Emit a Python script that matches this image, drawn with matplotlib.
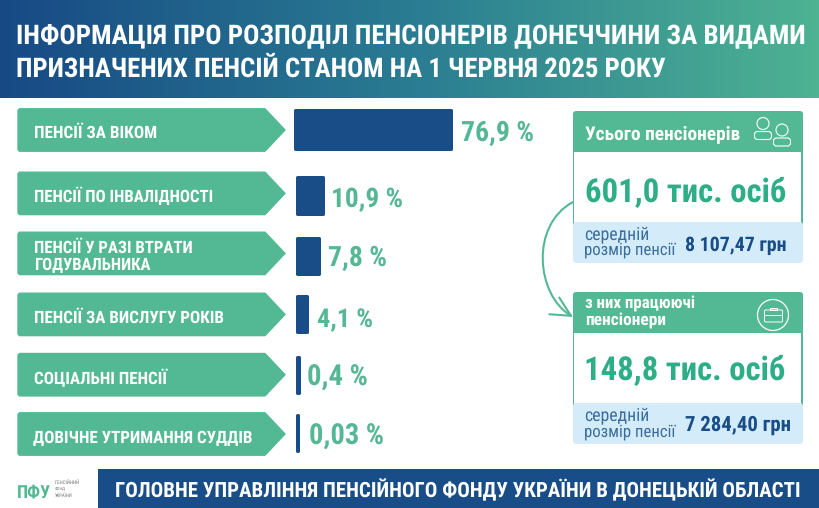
import numpy as np
import matplotlib
matplotlib.use("Agg")
import matplotlib.pyplot as plt
from matplotlib.patches import FancyBboxPatch, Polygon, FancyArrowPatch, Circle, Rectangle
from matplotlib.path import Path
from matplotlib.colors import LinearSegmentedColormap
from matplotlib.scale import FuncScale

# ---- data ----
categories = [["ПЕНСІЇ ЗА ВІКОМ"], ["ПЕНСІЇ ПО ІНВАЛІДНОСТІ"], ["ПЕНСІЇ У РАЗІ ВТРАТИ", "ГОДУВАЛЬНИКА"],
              ["ПЕНСІЇ ЗА ВИСЛУГУ РОКІВ"], ["СОЦІАЛЬНІ ПЕНСІЇ"], ["ДОВІЧНЕ УТРИМАННЯ СУДДІВ"]]
shares = [76.9, 10.9, 7.8, 4.1, 0.4, 0.03]
share_labels = ["76,9 %", "10,9 %", "7,8 %", "4,1 %", "0,4 %", "0,03 %"]
title_lines = ["ІНФОРМАЦІЯ ПРО РОЗПОДІЛ ПЕНСІОНЕРІВ ДОНЕЧЧИНИ ЗА ВИДАМИ",
               "ПРИЗНАЧЕНИХ ПЕНСІЙ СТАНОМ НА 1 ЧЕРВНЯ 2025 РОКУ"]
footer = "ГОЛОВНЕ УПРАВЛІННЯ ПЕНСІЙНОГО ФОНДУ УКРАЇНИ В ДОНЕЦЬКІЙ ОБЛАСТІ"
card_totals = ["601,0 тис. осіб", "148,8 тис. осіб"]
card_pensions = ["8 107,47 грн", "7 284,40 грн"]

# ---- layout (pixels) ----
W, H = 820, 508
NAVY, GREEN, BIG, LIGHT = "#194D88", "#53B994", "#2DAE86", "#D4ECFA"
FONT = ["Roboto Condensed", "Liberation Sans Narrow", "Roboto", "DejaVu Sans"]
plt.rcParams["text.hinting"] = "no_hinting"
arrow_tops = [108.3, 171.7, 231.7, 292.7, 353, 412.3]
bar_tops = [108.3, 175.6, 236, 294.3, 355.3, 413]
bar_bots = [150.8, 215.4, 275.4, 333.5, 394.6, 452]
# the reference's bars do not grow linearly: axis scale
scale_v = [-1, 0, 0.03, 0.4, 4.1, 7.8, 10.9, 76.9, 200]
scale_p = [-2, 0, 0.1, 1.3, 9.5, 21.5, 25.5, 154, 400]
bar_starts = [-1, 0, 0, 0, 0, 0]
label_gap = [8.5, 7, 7.5, 8.5, 7, 10]
label_w = [73, 72, 59, 56, 61, 75]
label_base = [141, 207, 266, 327, 386, 445]

fig = plt.figure(figsize=(W / 100, H / 100), dpi=100)
ax = fig.add_axes([0, 0, 1, 1])
ax.set_xlim(0, W); ax.set_ylim(H, 0); ax.axis("off")
rend = fig.canvas.get_renderer()


def refit(t, width):
    for _ in range(3):
        w = t.get_window_extent(rend).width
        t.set_fontsize(t.get_fontsize() * width / w)


def fit(x0, x1, base, s, size, color, weight="bold"):
    t = ax.text(x0, base, s, color=color, fontsize=size, fontweight=weight, family=FONT,
                ha="left", va="baseline", zorder=6)
    refit(t, x1 - x0)
    return t


def rbox(x0, y0, x1, y1, r, fc, z=2):
    p = FancyBboxPatch((x0 + r, y0 + r), x1 - x0 - 2 * r, y1 - y0 - 2 * r,
                       boxstyle=f"round,pad={r},rounding_size={r}", fc=fc, ec="none", lw=0, zorder=z)
    ax.add_patch(p)
    return p


# header gradient
cm = LinearSegmentedColormap.from_list("h", ["#174A85", "#2A7C92", "#4DB393"])
ax.imshow(np.linspace(0, 1, 256)[None, :], extent=(0, W, 98, 0), cmap=cm, aspect="auto", zorder=1)
ax.set_xlim(0, W); ax.set_ylim(H, 0)
fit(16.5, 804.5, 44, title_lines[0], 21, "white")
fit(16.5, 667, 77, title_lines[1], 21, "white")

# arrows with labels
for top in arrow_tops:
    bot = top + 43.4
    mid = (top + bot) / 2
    verts = [(19.5, top + .5), (265, top + .5), (285, mid), (265, bot - .5), (19.5, bot - .5),
             (18, bot - 2), (18, top + 2)]
    ax.add_patch(Polygon(verts, closed=True, fc=GREEN, ec=GREEN, lw=1, joinstyle="round", zorder=2))
label_spans = [[(34, 157)], [(34, 214)], [(34, 193), (34, 150)], [(34, 224)], [(34, 167)], [(33, 252)]]
label_bases = [[138], [202], [253, 270], [323], [384], [443]]
for lines, spans, bases in zip(categories, label_spans, label_bases):
    for s, (a, b), y in zip(lines, spans, bases):
        fit(a, b, y, s, 14, "white")

# bars on a value axis
bax = fig.add_axes([297.5 / W, 0, 400 / W, 1])
bax.patch.set_alpha(0); bax.axis("off")
bax.set_xscale(FuncScale(bax, (lambda v: np.interp(v, scale_v, scale_p),
                               lambda p: np.interp(p, scale_p, scale_v))))
bax.set_xlim(0, 200); bax.set_ylim(H, 0)
LW = 3 * 0.72
for val, start, lab, t, b, gap, w, base in zip(shares, bar_starts, share_labels, bar_tops, bar_bots,
                                               label_gap, label_w, label_base):
    bax.barh((t + b) / 2, val - start, height=b - t - 3, left=start, color=NAVY, edgecolor=NAVY,
             linewidth=LW, joinstyle="round", clip_on=False)
    a = bax.annotate(lab, (val, base), xytext=((gap + 1.5) * 0.72, 0), textcoords="offset points",
                     ha="left", va="baseline", color="#56B795", fontsize=23, fontweight="bold", family=FONT)
    refit(a, w)

# cards
for top in [111, 292]:
    rbox(573, top, 803, top + 60, 3, GREEN)
    ax.add_patch(Rectangle((574.5, top + 41), 227, 72, fc="white", ec="none", zorder=3))
    ax.add_patch(Rectangle((573, top + 50), 1.5, 64, fc=GREEN, ec="none", zorder=3))
    ax.add_patch(Rectangle((801.5, top + 50), 1.5, 64, fc=GREEN, ec="none", zorder=3))
    rbox(573, top + 111, 803, top + 152, 3, LIGHT, z=4)
fit(585, 740, 139, "Усього пенсіонерів", 15, "white")
fit(585, 695, 309, "з них працюючі", 15, "white")
fit(585, 666, 326, "пенсіонери", 15, "white")
fit(585, 786, 202, card_totals[0], 27, BIG)
fit(584, 785, 380, card_totals[1], 27, BIG)
for b1, b2 in ((239, 255), (420, 437)):
    fit(584.5, 650, b1, "середній", 13, "#3B6E9E", "normal")
    fit(584.5, 676, b2, "розмір пенсії", 13, "#3B6E9E", "normal")
fit(685.5, 787, 250.5, card_pensions[0], 16, NAVY)
fit(685, 791, 431, card_pensions[1], 16, NAVY)

# connector
ax.add_patch(FancyArrowPatch(path=Path([(573, 202), (530, 225), (536, 295), (573, 317)],
                                       [Path.MOVETO, Path.CURVE4, Path.CURVE4, Path.CURVE4]),
                             arrowstyle="->,head_length=14,head_width=7", color=GREEN, lw=1.5, zorder=5,
                             shrinkA=0, shrinkB=0))

# icons
def person(cx, cy, z):
    ax.add_patch(FancyBboxPatch((cx - 8.5, cy + 8), 17, 8, boxstyle="round,pad=0,rounding_size=3",
                                fc=GREEN, ec="white", lw=0.8, zorder=z))
    ax.add_patch(Circle((cx, cy), 6, fc=GREEN, ec="white", lw=0.8, zorder=z))
person(763, 123.5, 6)
person(782, 130, 7)
ax.add_patch(Circle((773, 315), 15.5, fc="none", ec="white", lw=0.9, zorder=6))
ax.add_patch(FancyBboxPatch((764.5, 310), 18, 12, boxstyle="round,pad=0,rounding_size=1",
                            fc="none", ec="white", lw=0.7, zorder=6))
ax.add_patch(Rectangle((770, 307.5), 7, 2.5, fc="none", ec="white", lw=0.7, zorder=6))
ax.plot([764.5, 782.5], [315, 315], color="white", lw=0.6, zorder=6)

# footer
ax.add_patch(Rectangle((98, 468.5), 722, 39.5, fc=NAVY, ec="none", zorder=2))
fit(115, 802.5, 497, footer, 17, "white")
fit(17, 51, 497, "ПФУ", 22, GREEN)
for s, x1, b in (("ПЕНСІЙНИЙ", 80, 483.5), ("ФОНД", 66, 490.5), ("УКРАЇНИ", 73, 497)):
    fit(55, x1, b, s, 4, "#777777", "normal")

fig.savefig("out.png", dpi=100)
